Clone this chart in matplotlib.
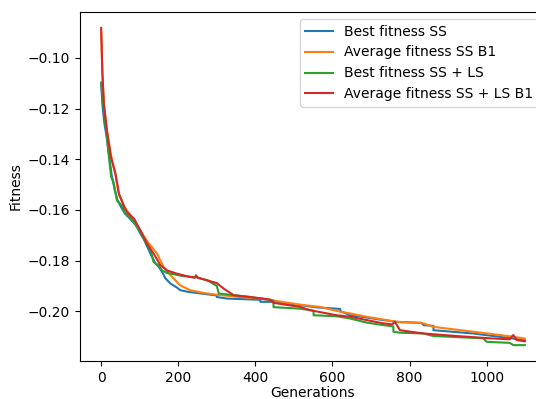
import matplotlib
matplotlib.use("Agg")
import matplotlib.pyplot as plt

# Best fitness SS (repeated generation = a drop)
gen_best_ss = [0, 3, 8, 14, 20, 27, 35, 42, 52, 62, 75, 90, 102, 112, 120, 130, 141, 150, 158, 167,
               180, 197, 205, 227, 249, 300, 300, 326, 413, 413, 447, 516, 560, 611, 620, 620, 646,
               689, 732, 767, 831, 836, 862, 862, 965, 1034, 1069, 1099]
best_ss = [-0.1100, -0.1180, -0.1255, -0.1310, -0.1380, -0.1460, -0.1520, -0.1560, -0.1590, -0.1615,
           -0.1635, -0.1660, -0.1694, -0.1720, -0.1747, -0.1780, -0.1812, -0.1826, -0.1845, -0.1871,
           -0.1891, -0.1907, -0.1917, -0.1924, -0.1928, -0.1938, -0.1944, -0.1950, -0.1955, -0.1963,
           -0.1963, -0.1976, -0.1985, -0.1990, -0.1991, -0.1999, -0.2016, -0.2025, -0.2035, -0.2042,
           -0.2046, -0.2055, -0.2058, -0.2075, -0.2088, -0.2101, -0.2108, -0.2115]

# Average fitness SS B1
gen_avg_ss = [0, 3, 7, 15, 25, 37, 46, 60, 76, 100, 120, 145, 162, 180, 205, 231, 266, 300, 361, 413,
              447, 525, 568, 611, 646, 689, 732, 767, 836, 862, 965, 1034, 1069, 1099]
avg_ss = [-0.0900, -0.1060, -0.1180, -0.1290, -0.1380, -0.1460, -0.1535, -0.1590, -0.1620, -0.1680,
          -0.1725, -0.1773, -0.1826, -0.1858, -0.1898, -0.1917, -0.1928, -0.1935, -0.1944, -0.1950,
          -0.1958, -0.1976, -0.1983, -0.1999, -0.2009, -0.2022, -0.2033, -0.2042, -0.2048, -0.2062,
          -0.2081, -0.2094, -0.2101, -0.2108]

# Best fitness SS + LS (repeated generation = a drop)
gen_best_ls = [0, 5, 11, 15, 20, 26, 32, 41, 54, 63, 76, 90, 102, 115, 128, 136, 149, 158, 171, 188,
               214, 249, 275, 300, 305, 387, 447, 447, 516, 551, 551, 611, 646, 689, 732, 758, 758,
               775, 836, 862, 991, 1000, 1060, 1069, 1099]
best_ls = [-0.1097, -0.1180, -0.1260, -0.1314, -0.1390, -0.1471, -0.1490, -0.1563, -0.1583, -0.1615,
           -0.1630, -0.1660, -0.1688, -0.1727, -0.1760, -0.1806, -0.1819, -0.1839, -0.1849, -0.1854,
           -0.1862, -0.1866, -0.1878, -0.1900, -0.1930, -0.1944, -0.1958, -0.1984, -0.1990, -0.1998,
           -0.2016, -0.2020, -0.2029, -0.2045, -0.2055, -0.2060, -0.2081, -0.2085, -0.2088, -0.2098,
           -0.2107, -0.2121, -0.2125, -0.2134, -0.2134]

# Average fitness SS + LS B1
gen_avg_ls = [0, 3, 7, 15, 25, 37, 46, 55, 67, 85, 102, 119, 136, 154, 171, 197, 231, 243, 246, 250,
              275, 300, 318, 344, 387, 439, 447, 516, 542, 611, 646, 689, 732, 755, 762, 775, 836,
              922, 1008, 1060, 1069, 1078, 1099]
avg_ls = [-0.0881, -0.1051, -0.1182, -0.1287, -0.1390, -0.1457, -0.1537, -0.1570, -0.1609, -0.1634,
          -0.1681, -0.1733, -0.1773, -0.1819, -0.1839, -0.1852, -0.1865, -0.1868, -0.1858, -0.1868,
          -0.1878, -0.1889, -0.1911, -0.1937, -0.1944, -0.1954, -0.1967, -0.1983, -0.1996, -0.2016,
          -0.2022, -0.2035, -0.2048, -0.2052, -0.2042, -0.2075, -0.2088, -0.2098, -0.2107, -0.2111,
          -0.2094, -0.2114, -0.2119]

fig = plt.figure(figsize=(5.36, 3.99), dpi=100)
ax = fig.add_axes([80 / 536, 38 / 399, 466 / 536, 349 / 399])

ax.plot(gen_best_ss, best_ss, label="Best fitness SS")
ax.plot(gen_avg_ss, avg_ss, label="Average fitness SS B1")
ax.plot(gen_best_ls, best_ls, label="Best fitness SS + LS")
ax.plot(gen_avg_ls, avg_ls, label="Average fitness SS + LS B1")

ax.set_xlabel("Generations", labelpad=1)
ax.set_ylabel("Fitness")
ax.legend(loc="upper right")

fig.savefig("out.png", dpi=100)
